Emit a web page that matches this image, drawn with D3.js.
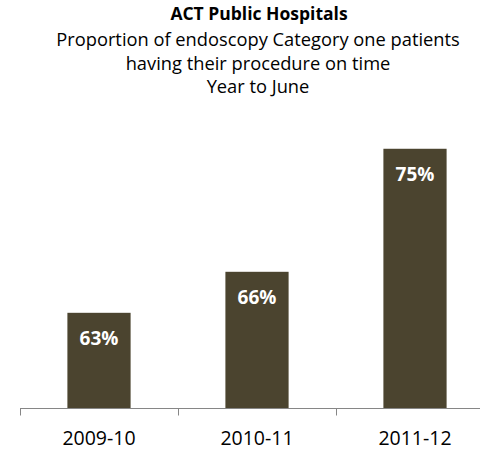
<!DOCTYPE html>
<html>
<head>
<meta charset="utf-8">
<script src="https://cdn.jsdelivr.net/npm/d3@7"></script>
<style>
  body { margin: 0; background: #fff; }
  svg { display: block; font-family: "Open Sans", Lato, sans-serif; }
</style>
</head>
<body>
<div id="chart"></div>
<script>
const years = ['2009-10', '2010-11', '2011-12'];
const onTime = [63, 66, 75];
const titleLines = [
  'Proportion of endoscopy Category one patients',
  'having their procedure on time',
  'Year to June'
];

const width = 480, height = 452;
const baseY = 408.5;

const svg = d3.select('#chart').append('svg')
  .attr('width', width)
  .attr('height', height);

// x: one band per year, ticks fall on band edges
const x = d3.scaleBand().domain(years).range([20, 494]).padding(0);
const y = d3.scaleLinear().domain([56, 80]).range([baseY, baseY - 24 * 13.67]);

const barW = x.bandwidth() * 0.4;
const data = years.map((d, i) => ({ year: d, value: onTime[i] }));

svg.append('text')
  .attr('x', 259).attr('y', 20)
  .attr('text-anchor', 'middle')
  .attr('font-size', 17.5).attr('font-weight', 'bold')
  .attr('fill', '#000')
  .text('ACT Public Hospitals');

svg.selectAll('.sub')
  .data(titleLines)
  .enter().append('text')
  .attr('class', 'sub')
  .attr('x', 258)
  .attr('y', (d, i) => 46 + i * 23.5)
  .attr('text-anchor', 'middle')
  .attr('font-size', 18.3)
  .attr('fill', '#000')
  .text(d => d);

svg.selectAll('.bar')
  .data(data)
  .enter().append('rect')
  .attr('class', 'bar')
  .attr('x', d => x(d.year) + (x.bandwidth() - barW) / 2)
  .attr('width', barW)
  .attr('y', d => y(d.value))
  .attr('height', d => baseY - y(d.value))
  .attr('fill', '#4b442f');

svg.selectAll('.lbl')
  .data(data)
  .enter().append('text')
  .attr('class', 'lbl')
  .attr('x', d => x(d.year) + x.bandwidth() / 2)
  .attr('y', d => y(d.value) + 32.5)
  .attr('text-anchor', 'middle')
  .attr('font-size', 19).attr('font-weight', 'bold')
  .attr('fill', '#fff')
  .text(d => d.value + '%');

// axis
svg.append('line')
  .attr('x1', x.range()[0]).attr('x2', x.range()[1])
  .attr('y1', baseY).attr('y2', baseY)
  .attr('stroke', '#868686');

svg.selectAll('.tick')
  .data(years)
  .enter().append('line')
  .attr('class', 'tick')
  .attr('x1', d => x(d) + 0.5).attr('x2', d => x(d) + 0.5)
  .attr('y1', baseY).attr('y2', baseY + 7)
  .attr('stroke', '#868686');

svg.selectAll('.xl')
  .data(years)
  .enter().append('text')
  .attr('class', 'xl')
  .attr('x', d => x(d) + x.bandwidth() / 2)
  .attr('y', 445)
  .attr('text-anchor', 'middle')
  .attr('font-size', 19.5)
  .attr('fill', '#000')
  .text(d => d);
</script>
</body>
</html>
